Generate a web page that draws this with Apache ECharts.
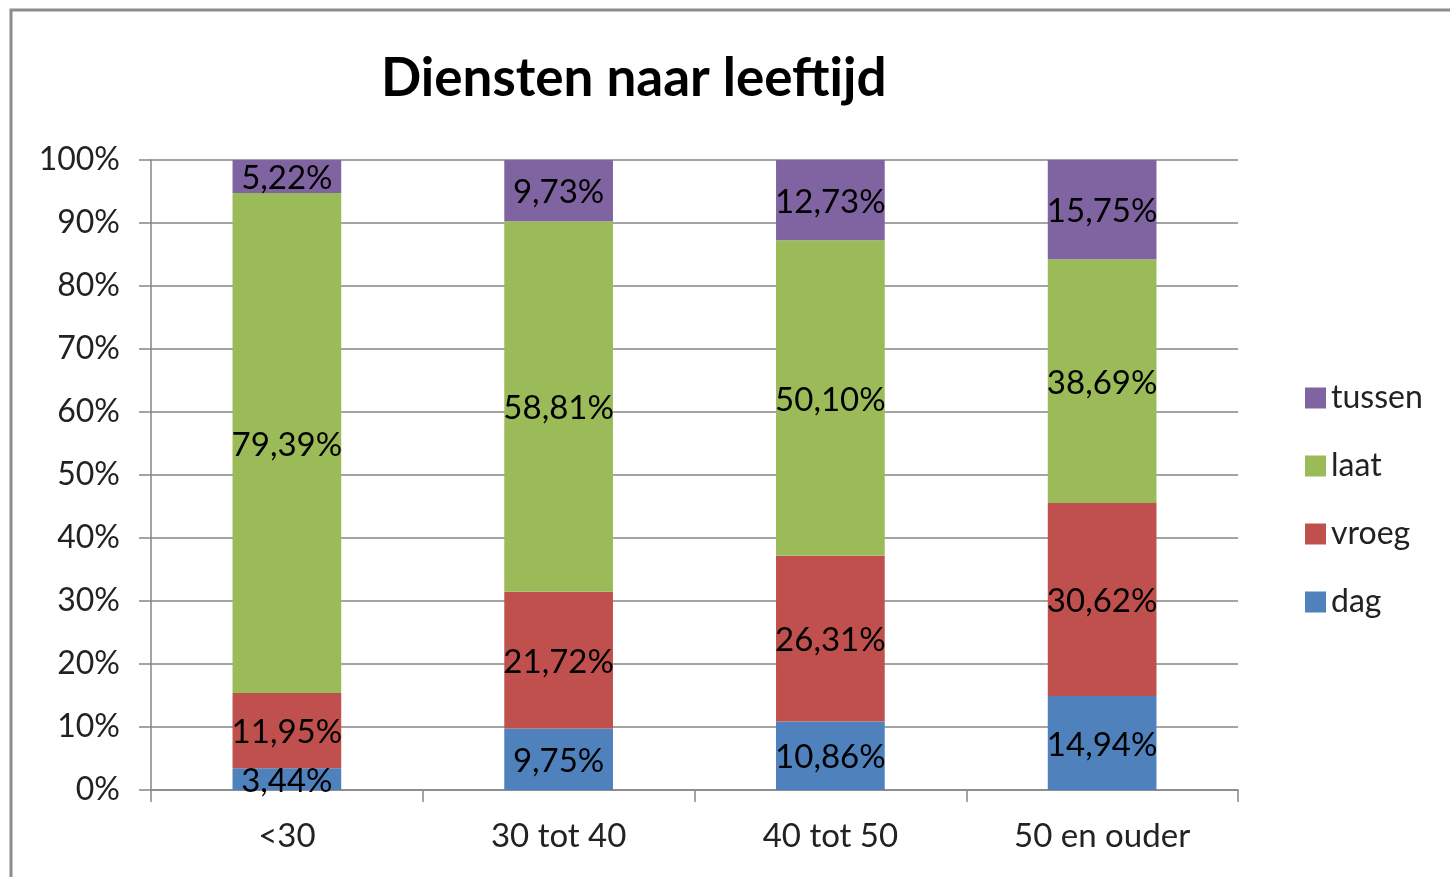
<!DOCTYPE html>
<html>
<head>
<meta charset="utf-8">
<script src="https://cdn.jsdelivr.net/npm/echarts@6/dist/echarts.min.js"></script>
<style>
  html, body { margin: 0; padding: 0; background: #fff; }
  #chart { width: 1450px; height: 877px; }
</style>
</head>
<body>
<div id="chart"></div>
<script>
const categories = ['<30', '30 tot 40', '40 tot 50', '50 en ouder'];
const dag = [3.44, 9.75, 10.86, 14.94];
const vroeg = [11.95, 21.72, 26.31, 30.62];
const laat = [79.39, 58.81, 50.10, 38.69];
const tussen = [5.22, 9.73, 12.73, 15.75];
const legendOrder = ['tussen', 'laat', 'vroeg', 'dag'];

const font = 'Lato, "Open Sans", sans-serif';

function makeSeries(name, data, color) {
    return {
        name: name,
        type: 'bar',
        stack: 'total',
        barWidth: '40%',
        data: data,
        itemStyle: { color: color },
        label: {
            show: true,
            position: 'inside',
            offset: [0, 2],
            color: '#000',
            fontFamily: font,
            fontSize: 33,
            formatter: p => p.value.toFixed(2).replace('.', ',') + '%'
        }
    };
}

const chart = echarts.init(document.getElementById('chart'));
chart.setOption({
    backgroundColor: '#fff',
    animation: false,
    title: {
        text: 'Diensten naar leeftijd',
        left: 376,
        top: 47,
        textStyle: { fontFamily: font, fontSize: 53, fontWeight: 'bold', color: '#000' }
    },
    legend: {
        orient: 'vertical',
        left: 1300,
        top: 377,
        data: legendOrder,
        icon: 'rect',
        itemWidth: 21,
        itemHeight: 21,
        itemGap: 36,
        textStyle: { fontFamily: font, fontSize: 32, color: '#222' }
    },
    grid: { left: 151, right: 212, top: 160, bottom: 87 },
    xAxis: {
        type: 'category',
        data: categories,
        axisLine: { lineStyle: { color: '#868686', width: 1.5 } },
        axisTick: { show: true, alignWithLabel: false, length: 12, lineStyle: { color: '#868686', width: 1.5 } },
        axisLabel: { margin: 30, fontFamily: font, fontSize: 33, color: '#222' }
    },
    yAxis: {
        type: 'value',
        min: 0,
        max: 100,
        interval: 10,
        axisLine: { show: true, lineStyle: { color: '#868686', width: 1.5 } },
        axisTick: { show: true, length: 12, lineStyle: { color: '#868686', width: 1.5 } },
        splitLine: { lineStyle: { color: '#868686', width: 1.5 } },
        axisLabel: { margin: 31, fontFamily: font, fontSize: 32, color: '#222', formatter: '{value}%' }
    },
    graphic: [{
        type: 'rect',
        shape: { x: 11, y: 10, width: 1600, height: 1000 },
        style: { fill: 'none', stroke: '#8c8c8c', lineWidth: 3 },
        silent: true
    }],
    series: [
        makeSeries('dag', dag, '#4F81BD'),
        makeSeries('vroeg', vroeg, '#C0504D'),
        makeSeries('laat', laat, '#9BBB59'),
        makeSeries('tussen', tussen, '#8064A2')
    ]
});
</script>
</body>
</html>
